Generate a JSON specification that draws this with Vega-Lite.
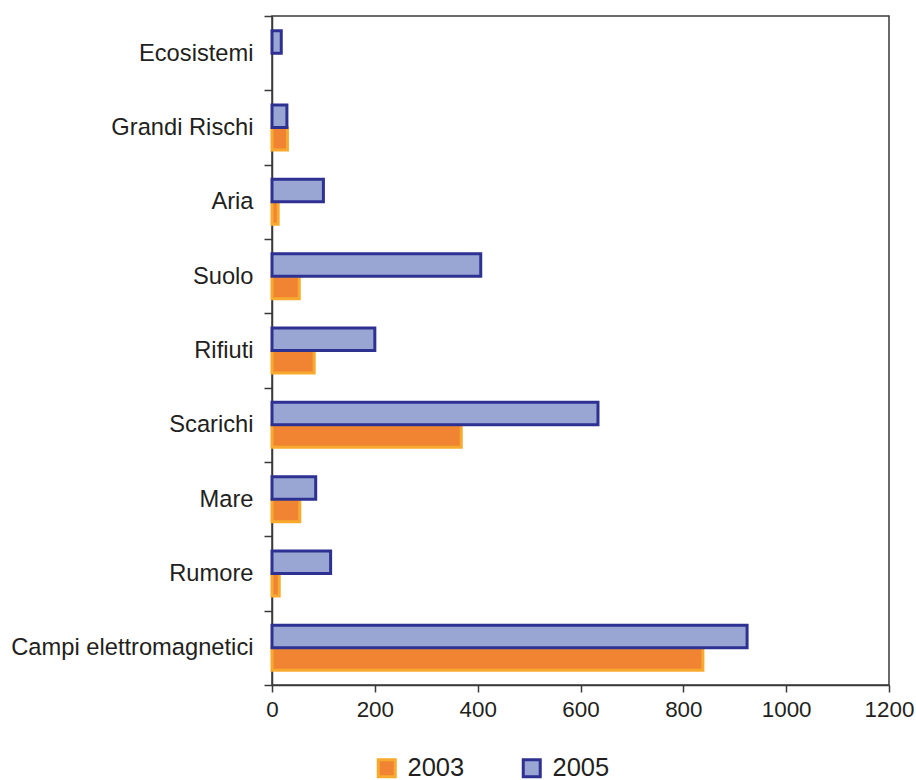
{
  "$schema": "https://vega.github.io/schema/vega-lite/v6.json",
  "autosize": "none",
  "width": 617,
  "height": 669,
  "padding": {"left": 272, "top": 16, "right": 27, "bottom": 95},
  "background": "white",
  "config": {
    "font": "Liberation Sans",
    "view": {"stroke": "#3a3a3a", "strokeWidth": 1.5}
  },
  "data": {
    "values": [
      {"categoria": "Grandi Rischi", "anno": "2003", "valore": 30},
      {"categoria": "Aria", "anno": "2003", "valore": 12},
      {"categoria": "Suolo", "anno": "2003", "valore": 53},
      {"categoria": "Rifiuti", "anno": "2003", "valore": 82},
      {"categoria": "Scarichi", "anno": "2003", "valore": 368},
      {"categoria": "Mare", "anno": "2003", "valore": 54},
      {"categoria": "Rumore", "anno": "2003", "valore": 14},
      {"categoria": "Campi elettromagnetici", "anno": "2003", "valore": 838},
      {"categoria": "Ecosistemi", "anno": "2005", "valore": 18},
      {"categoria": "Grandi Rischi", "anno": "2005", "valore": 29},
      {"categoria": "Aria", "anno": "2005", "valore": 100},
      {"categoria": "Suolo", "anno": "2005", "valore": 406},
      {"categoria": "Rifiuti", "anno": "2005", "valore": 200},
      {"categoria": "Scarichi", "anno": "2005", "valore": 634},
      {"categoria": "Mare", "anno": "2005", "valore": 85},
      {"categoria": "Rumore", "anno": "2005", "valore": 114},
      {"categoria": "Campi elettromagnetici", "anno": "2005", "valore": 924}
    ]
  },
  "mark": {"type": "bar", "strokeWidth": 3, "strokeJoin": "miter"},
  "encoding": {
    "y": {
      "field": "categoria",
      "type": "nominal",
      "sort": ["Ecosistemi", "Grandi Rischi", "Aria", "Suolo", "Rifiuti", "Scarichi", "Mare", "Rumore", "Campi elettromagnetici"],
      "scale": {"paddingInner": 0, "paddingOuter": 0},
      "axis": {
        "title": null,
        "tickBand": "extent",
        "domainColor": "#3a3a3a",
        "domainWidth": 1.5,
        "tickColor": "#3a3a3a",
        "tickWidth": 1.5,
        "tickSize": 8,
        "labelPadding": 11,
        "labelFontSize": 23.7,
        "labelLimit": 400,
        "labelColor": "#231f20",
        "labelFont": "Liberation Sans"
      }
    },
    "yOffset": {
      "field": "anno",
      "type": "nominal",
      "sort": ["2005", "2003"],
      "scale": {"paddingInner": 0, "paddingOuter": 0.65}
    },
    "x": {
      "field": "valore",
      "type": "quantitative",
      "scale": {"domain": [0, 1200], "nice": false},
      "axis": {
        "title": null,
        "values": [0, 200, 400, 600, 800, 1000, 1200],
        "format": "d",
        "grid": false,
        "domainColor": "#3a3a3a",
        "domainWidth": 1.5,
        "tickColor": "#3a3a3a",
        "tickWidth": 1.5,
        "tickSize": 7,
        "labelPadding": 6,
        "labelFontSize": 22.4,
        "labelColor": "#231f20",
        "labelFont": "Liberation Sans",
        "labelFlush": false
      }
    },
    "fill": {
      "field": "anno",
      "type": "nominal",
      "scale": {"domain": ["2003", "2005"], "range": ["#f08433", "#99a6d4"]},
      "legend": {
        "title": null,
        "orient": "none",
        "direction": "horizontal",
        "legendX": 102,
        "legendY": 739,
        "padding": 0,
        "symbolType": "square",
        "symbolSize": 289,
        "symbolStrokeWidth": 3,
        "labelFontSize": 25.5,
        "labelColor": "#231f20",
        "labelOffset": 8,
        "columnPadding": 52,
        "labelFont": "Liberation Sans"
      }
    },
    "stroke": {
      "field": "anno",
      "type": "nominal",
      "scale": {"domain": ["2003", "2005"], "range": ["#f7aa2e", "#2e3192"]}
    },
    "order": {"field": "anno", "sort": "ascending"}
  }
}
